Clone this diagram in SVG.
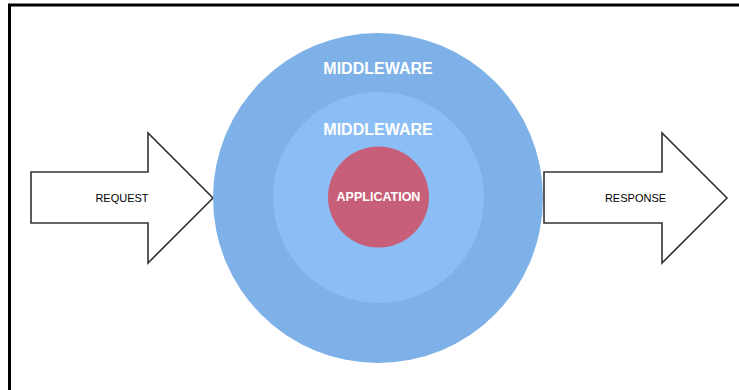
<svg xmlns="http://www.w3.org/2000/svg" width="739" height="390" viewBox="0 0 739 390">
<style>
.arrow{fill:#fff;stroke:#333;stroke-width:1.6;stroke-linejoin:miter}
.lbl{font-family:"Liberation Sans",Arial,sans-serif;font-size:11px;fill:#000;text-anchor:middle}
.wl{font-family:"Liberation Sans",Arial,sans-serif;font-weight:bold;fill:#fff;text-anchor:middle}
</style>
<rect x="0" y="0" width="739" height="390" fill="#fff"/>
<rect x="9.5" y="5" width="760" height="420" fill="none" stroke="#000" stroke-width="3"/>
<g id="connectors">
<g id="request">
<polygon class="arrow" points="31,172 148,172 148,133 213,198 148,263 148,223 31,223"/>
<text class="lbl" x="122" y="201.5">REQUEST</text>
</g>
<g id="response">
<polygon class="arrow" points="544,172 662,172 662,133 727,198 662,263 662,223 544,223"/>
<text class="lbl" x="635.5" y="201.5">RESPONSE</text>
</g>
</g>
<g id="middleware-outer">
<circle cx="378" cy="198" r="165" fill="#7eb1e8"/>
<text class="wl" x="378" y="73.5" font-size="16">MIDDLEWARE</text>
</g>
<g id="middleware-inner">
<circle cx="378.5" cy="197.5" r="105.5" fill="#8bbef4"/>
<text class="wl" x="378" y="134.5" font-size="16">MIDDLEWARE</text>
</g>
<g id="application">
<circle cx="378.5" cy="197" r="50.5" fill="#c85f78"/>
<text class="wl" x="378.5" y="200.8" font-size="12.5">APPLICATION</text>
</g>
</svg>
